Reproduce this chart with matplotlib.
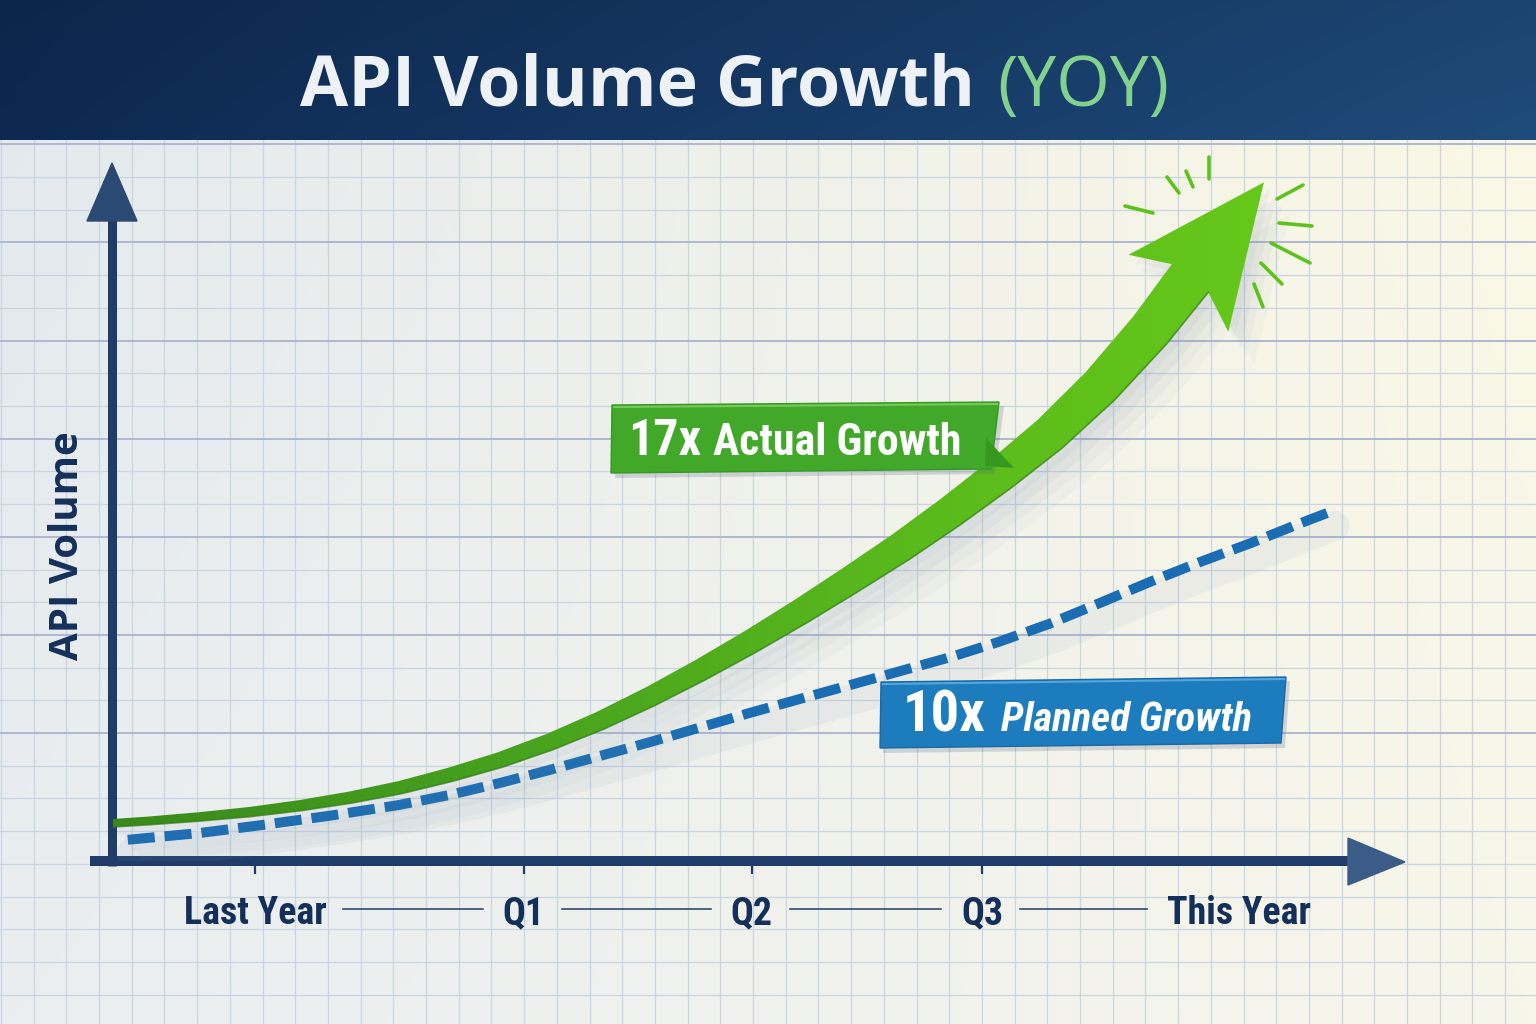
import numpy as np
import matplotlib
matplotlib.use("Agg")
import matplotlib.pyplot as plt
from matplotlib import font_manager as fm
from matplotlib.patches import Polygon
from matplotlib.colors import LinearSegmentedColormap, to_rgb
from matplotlib.transforms import offset_copy

# ---------------- data ----------------
x_tick_labels = ["Last Year", "Q1", "Q2", "Q3", "This Year"]
x_tick_pos = [0.0, 1.12, 2.07, 3.03, 4.10]

actual_x = [-0.592, -0.438, -0.229, -0.021, 0.188, 0.396, 0.604, 0.813, 1.021, 1.229,
            1.438, 1.646, 1.854, 2.063, 2.271, 2.479, 2.688, 2.896, 3.104, 3.313,
            3.521, 3.729, 3.896]
actual_y = [0.95, 1.01, 1.11, 1.23, 1.39, 1.59, 1.84, 2.16, 2.53, 2.98,
            3.51, 4.11, 4.77, 5.48, 6.23, 7.02, 7.84, 8.72, 9.66, 10.68,
            11.87, 13.27, 14.57]

planned_x = [-0.53, -0.23, 0.03, 0.31, 0.60, 0.81, 1.02, 1.23, 1.44, 1.65, 1.85, 2.06,
             2.27, 2.48, 2.69, 2.90, 3.10, 3.31, 3.52, 3.73, 3.94, 4.15, 4.35, 4.48]
planned_y = [0.53, 0.70, 0.90, 1.13, 1.40, 1.65, 1.95, 2.28, 2.63, 2.98, 3.33, 3.70,
             4.05, 4.40, 4.75, 5.10, 5.48, 5.93, 6.45, 6.98, 7.48, 7.95, 8.43, 8.73]

title_main = "API Volume Growth"
title_tag = "(YOY)"
y_label = "API Volume"
actual_mult, actual_text = "17x", "Actual Growth"
planned_mult, planned_text = "10x", "Planned Growth"

# ---------------- fonts ----------------
names = {f.name for f in fm.fontManager.ttflist}
def pick(cands, default):
    return next((c for c in cands if c in names), default)
COND = pick(["Roboto Condensed", "Open Sans Condensed", "Liberation Sans Narrow",
             "DejaVu Sans Condensed", "Roboto"], "DejaVu Sans")
SANS = pick(["Open Sans", "Noto Sans", "Lato"], "DejaVu Sans")

NAVY = "#14305a"
AXC = "#1f3d68"

W, H = 1536, 1024
fig = plt.figure(figsize=(W / 100, H / 100), dpi=100)
r = fig.canvas.get_renderer()

# layout (pixels)
AX_L, AX_R, AX_B, AX_T = 112, 1405, 861, 163
X0_PX, PX_PER_X, PX_PER_Y = 255, 240, 40

bg = fig.add_axes([0, 0, 1, 1], zorder=0)
ax = fig.add_axes([AX_L / W, (H - AX_B) / H, (AX_R - AX_L) / W, (AX_B - AX_T) / H], zorder=1)
ov = fig.add_axes([0, 0, 1, 1], zorder=2)

# ---------------- background ----------------
tl, tr, bl_, br_ = [np.array(to_rgb(c)) for c in ["#e3e9ee", "#fbf8e4", "#eaeef1", "#f7f6eb"]]
u = np.linspace(0, 1, 256)[None, :, None]
v = np.linspace(0, 1, 256)[:, None, None]
img = (1 - v) * ((1 - u) * tl + u * tr) + v * ((1 - u) * bl_ + u * br_)
bg.imshow(img, extent=(0, W, H, 0), aspect="auto", interpolation="bilinear", zorder=0)

step = 32.7
for xx in np.arange(131.7 - 4 * step, W + 1, step):
    bg.plot([xx, xx], [0, H], color="#c9d5e1", lw=0.9, zorder=1)
for k in range(-25, 12):
    yy = 733 + k * step
    if 0 <= yy <= H:
        if k % 3 == 0 and yy < 800:
            bg.plot([0, W], [yy, yy], color="#b0b8d1", lw=1.4, zorder=1.2)
        else:
            bg.plot([0, W], [yy, yy], color="#c9d5e1", lw=0.9, zorder=1.1)

# axis arrows
bg.plot([112, 112], [866, 214], color=AXC, lw=6.5, solid_capstyle="butt", zorder=3)
bg.add_patch(Polygon([[112, 163], [87, 221], [137, 221]], closed=True, color="#2a4a74", zorder=3))
bg.plot([90, 1350], [861, 861], color=AXC, lw=7.2, solid_capstyle="butt", zorder=3)
bg.add_patch(Polygon([[1348, 838], [1405, 862], [1348, 885]], closed=True, color="#3a5c86", zorder=3))
bg.set_xlim(0, W); bg.set_ylim(H, 0); bg.axis("off")

# ---------------- data axes ----------------
ax.set_xlim((AX_L - X0_PX) / PX_PER_X, (AX_R - X0_PX) / PX_PER_X)
ax.set_ylim(0, (AX_B - AX_T) / PX_PER_Y)
ax.patch.set_alpha(0)
for s in ax.spines.values():
    s.set_visible(False)

# planned (blue dashed) with soft shadow
sh = offset_copy(ax.transData, fig=fig, x=4, y=-14, units="dots")
ax.plot(planned_x, planned_y, color="#7f98b5", lw=22, alpha=0.09, transform=sh,
        solid_capstyle="round", zorder=1)
ax.plot(planned_x, planned_y, color="#1b6db3", lw=7.2, linestyle=(0, (2.7, 1.0)),
        dash_capstyle="butt", zorder=2)

# actual (green tapered arrow)
pts = ax.transData.transform(np.column_stack([actual_x, actual_y]))
tan = np.gradient(pts, axis=0)
tan /= np.linalg.norm(tan, axis=1)[:, None]
nrm = np.column_stack([-tan[:, 1], tan[:, 0]])
seg = np.r_[0, np.cumsum(np.linalg.norm(np.diff(pts, axis=0), axis=1))]
wid = 8 + 38 * (seg / seg[-1]) ** 1.4
L = pts + nrm * wid[:, None] / 2
R = pts - nrm * wid[:, None] / 2
B = pts[-1]; ue = tan[-1]; ne = nrm[-1]
tip = B + ue * 121
barb_l = B + ne * 63 - ue * 19
barb_r = B - ne * 63 - ue * 19
poly_disp = np.vstack([L, barb_l, tip, barb_r, R[::-1]])
inv = ax.transData.inverted()
for off, a in [((6, -8), 0.07), ((12, -16), 0.06), ((18, -24), 0.05), ((26, -32), 0.04)]:
    sp = inv.transform(poly_disp + np.array(off))
    ax.add_patch(Polygon(sp, closed=True, fc="#6f88a8", ec="none", alpha=a, zorder=2.5))
poly_data = inv.transform(poly_disp)
gpatch = Polygon(poly_data, closed=True, fc="none", ec="none", zorder=3)
ax.add_patch(gpatch)
gcm = LinearSegmentedColormap.from_list("g", ["#3a8a1b", "#46a11e", "#58b81c", "#66c81a"])
xmin, ymin = poly_data.min(axis=0); xmax, ymax = poly_data.max(axis=0)
gimg = gcm(np.linspace(0, 1, 256))[None, :, :]
im = ax.imshow(gimg, extent=(xmin, xmax, ymin, ymax), aspect="auto", zorder=3,
               interpolation="bilinear")
im.set_clip_path(gpatch)
# darker lower edge of the ribbon
redge = inv.transform(R)
ax.plot(redge[:, 0], redge[:, 1], color="#2f7a16", lw=1.2, alpha=0.7, zorder=3.1)
ax.set_xlim((AX_L - X0_PX) / PX_PER_X, (AX_R - X0_PX) / PX_PER_X)
ax.set_ylim(0, (AX_B - AX_T) / PX_PER_Y)

# ticks / labels
ax.set_xticks(x_tick_pos, x_tick_labels)
ax.set_yticks([])
ax.tick_params(axis="x", direction="out", length=9.5, width=1.6, color=AXC, pad=15,
               labelsize=32, labelcolor=NAVY)
for lab in ax.get_xticklabels():
    lab.set_fontfamily(COND); lab.set_fontweight("bold")
ax.xaxis.get_major_ticks()[-1].tick1line.set_visible(False)
ax.set_ylabel(y_label, fontsize=29, fontweight="bold", color=NAVY, family=SANS,
              va="center", ha="center")
ax.yaxis.set_label_coords((67 - AX_L) / (AX_R - AX_L), (AX_B - 546) / (AX_B - AX_T))

# ---------------- overlay ----------------
ov.set_xlim(0, W); ov.set_ylim(H, 0); ov.axis("off")

# banner
bl_c, br_c = np.array(to_rgb("#0d2850")), np.array(to_rgb("#1e4a79"))
uu = np.linspace(0, 1, 256)[None, :, None]
vv = np.linspace(0, 1, 32)[:, None, None]
ban = (1 - uu) * bl_c + uu * br_c
ban = ban * (0.93 + 0.09 * vv)
ov.imshow(np.clip(ban, 0, 1), extent=(0, W, 140, 0), aspect="auto", zorder=1)
ov.set_xlim(0, W); ov.set_ylim(H, 0)

def fit(t, target_w, grow=1.08):
    w = t.get_window_extent(renderer=r).width
    if w > 0:
        t.set_fontsize(t.get_fontsize() * min(target_w / w, grow))

t1 = ov.text(300, 106, title_main, color="#eef1f5", fontsize=56, fontweight="bold",
             family=SANS, va="baseline", ha="left", zorder=5)
fit(t1, 675)
e1 = t1.get_window_extent(renderer=r)
t2 = ov.text(e1.x1 + 22, 106, title_tag, color="#82d18e", fontsize=56, fontweight="normal",
             family=SANS, va="baseline", ha="left", zorder=5)
fit(t2, 172)

# green label box
ov.add_patch(Polygon([[616, 410], [1004, 406], [995, 474], [615, 478]], closed=True,
                     fc="#50627a", ec="none", alpha=0.22, zorder=3))
ov.add_patch(Polygon([[612, 405], [999, 402], [991, 469], [611, 473]], closed=True,
                     fc="#41a82a", ec="#369a22", lw=1, zorder=4))
ov.plot([614, 997], [407, 404], color="#78c95a", lw=1.5, zorder=4.1)
ov.add_patch(Polygon([[986, 438], [1014, 468], [985, 466]], closed=True,
                     fc="#37981f", ec="none", zorder=4))
a1 = ov.text(628, 455, actual_mult, color="white", fontsize=40, fontweight="bold",
             family=COND, va="baseline", ha="left", zorder=5)
fit(a1, 73)
a2 = ov.text(713, 455, actual_text, color="white", fontsize=34, fontweight="bold",
             family=COND, va="baseline", ha="left", zorder=5)
fit(a2, 248)

# blue label box
ov.add_patch(Polygon([[884, 686], [1290, 681], [1285, 748], [883, 753]], closed=True,
                     fc="#50627a", ec="none", alpha=0.22, zorder=3))
ov.add_patch(Polygon([[881, 682], [1286, 677], [1281, 743], [880, 748]], closed=True,
                     fc="#1d7cbe", ec="#1769a8", lw=1, zorder=4))
ov.plot([883, 1284], [684, 679], color="#55a6dc", lw=1.5, zorder=4.1)
b1 = ov.text(903, 732, planned_mult, color="white", fontsize=42, fontweight="bold",
             family=COND, va="baseline", ha="left", zorder=5)
fit(b1, 83)
b2 = ov.text(1001, 731, planned_text, color="white", fontsize=36, fontweight="bold",
             style="italic", family=COND, va="baseline", ha="left", zorder=5)
fit(b2, 251)

# sparkle strokes near the arrow tip
sparks = [((1125, 206), (1153, 213)), ((1167, 177), (1179, 193)), ((1186, 171), (1193, 187)),
          ((1209, 157), (1209, 179)), ((1303, 185), (1277, 199)), ((1279, 223), (1312, 226)),
          ((1271, 243), (1310, 263)), ((1261, 263), (1282, 284)), ((1254, 284), (1263, 307))]
for (p0, p1) in sparks:
    ov.plot([p0[0], p1[0]], [p0[1], p1[1]], color="#5ec21c", lw=2.6,
            solid_capstyle="round", zorder=4)

# fit tick labels then connect them with rules
fig.canvas.draw()
lbls = ax.get_xticklabels()
w0 = lbls[0].get_window_extent(renderer=r).width
if w0 > 0:
    new = 32 * min(143 / w0, 1.08)
    ax.tick_params(axis="x", labelsize=new)
fig.canvas.draw()
bbs = [l.get_window_extent(renderer=r) for l in ax.get_xticklabels()]
for i in range(len(bbs) - 1):
    x0 = bbs[i].x1 + 17
    x1 = bbs[i + 1].x0 - 20
    ov.plot([x0, x1], [909, 909], color=AXC, lw=1.1, zorder=4)

fig.savefig("out.png", dpi=100)
